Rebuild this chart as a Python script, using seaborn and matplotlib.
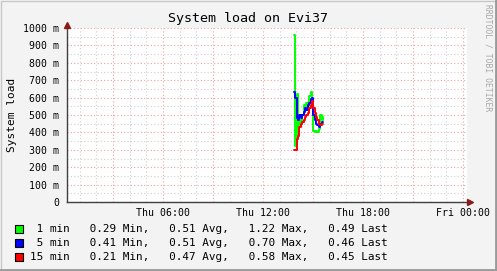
import numpy as np
import pandas as pd
import matplotlib
matplotlib.use("Agg")
import matplotlib.pyplot as plt
from matplotlib.ticker import MultipleLocator, FuncFormatter
from matplotlib.lines import Line2D
from matplotlib.patches import Rectangle
import seaborn as sns

# ---- data (load in milli units, time in hours since Thu 00:00) ----
t_start = 13.85
t_step = 5 / 60
load_1min = [960, 320, 620, 420, 470, 450, 500, 560, 540, 570, 550,
             610, 630, 560, 410, 400, 410, 400, 420, 500, 470, 490]
load_5min = [630, 600, 480, 470, 500, 480, 500, 520, 540, 530, 560,
             570, 590, 600, 500, 470, 450, 440, 430, 450, 460, 460]
load_15min = [300, 300, 360, 380, 430, 450, 460, 470, 490, 500, 510,
              540, 560, 580, 540, 510, 490, 470, 450, 440, 450, 450]
series_names = ["1 min", "5 min", "15 min"]
series_colors = ["#00FF00", "#0000FF", "#FF0000"]
legend_lines = [
    " 1 min   0.29 Min,   0.51 Avg,   1.22 Max,   0.49 Last",
    " 5 min   0.41 Min,   0.51 Avg,   0.70 Max,   0.46 Last",
    "15 min   0.21 Min,   0.47 Avg,   0.58 Max,   0.45 Last",
]
title = "System load on Evi37"
ylabel = "System load"
x_min, x_max = 0.24, 24.24
y_min, y_max = 0, 1000

times = [t_start + i * t_step for i in range(len(load_1min))]
df = pd.DataFrame({
    "time": times * 3,
    "load": load_1min + load_5min + load_15min,
    "series": sum([[n] * len(times) for n in series_names], []),
})

sns.set_style("white")
plt.rcParams["font.family"] = ["DejaVu Sans Mono"]

W, H = 497, 271
fig = plt.figure(figsize=(W / 100, H / 100), dpi=100, facecolor="#F3F3F3")
ax = fig.add_axes([67 / W, (H - 202) / H, 400 / W, 174 / H])
ax.set_facecolor("white")

ax.set_xlim(x_min, x_max)
ax.set_ylim(y_min, y_max)

ax.xaxis.set_major_locator(MultipleLocator(3))
ax.xaxis.set_minor_locator(MultipleLocator(1))
ax.yaxis.set_major_locator(MultipleLocator(100))
ax.yaxis.set_minor_locator(MultipleLocator(50))

def xfmt(v, pos):
    h = int(round(v))
    if h % 6 != 0:
        return ""
    day = "Thu" if h < 24 else "Fri"
    return f"{day} {h % 24:02d}:00"

def yfmt(v, pos):
    return "0" if v == 0 else f"{int(v)} m"

ax.xaxis.set_major_formatter(FuncFormatter(xfmt))
ax.yaxis.set_major_formatter(FuncFormatter(yfmt))

ax.grid(which="minor", color="#D0D0D0", linestyle=(0, (1, 2)), linewidth=0.8, zorder=0)
ax.grid(which="major", color="#F2A0A0", linestyle=(0, (1, 2)), linewidth=0.8, zorder=0.5)
ax.set_axisbelow(True)

sns.lineplot(data=df, x="time", y="load", hue="series", hue_order=series_names,
             palette=series_colors, drawstyle="steps-post", linewidth=1.4,
             legend=False, ax=ax, zorder=3)
ax.set_xlabel("")
ax.set_ylabel("")

for s in ["top", "right"]:
    ax.spines[s].set_visible(False)
for s in ["left", "bottom"]:
    ax.spines[s].set_color("#404040")
    ax.spines[s].set_linewidth(1.0)
    ax.spines[s].set_zorder(4)

ax.tick_params(axis="both", which="major", direction="inout", length=3,
               color="#404040", labelsize=7.1, labelcolor="#000000", pad=3)
ax.tick_params(axis="both", which="minor", direction="inout", length=2, color="#404040")
ax.tick_params(axis="y", which="major", pad=4)

# axis arrows
ax.plot([1.0, 1.008], [0, 0], color="#404040", lw=1.0, transform=ax.transAxes, clip_on=False, zorder=4)
ax.plot([1.008], [0], marker=">", color="#8B1A1A", markersize=4, transform=ax.transAxes, clip_on=False, zorder=5)
ax.plot([0, 0], [1.0, 1.02], color="#404040", lw=1.0, transform=ax.transAxes, clip_on=False, zorder=4)
ax.plot([0], [1.02], marker="^", color="#8B1A1A", markersize=4, transform=ax.transAxes, clip_on=False, zorder=5)

# title and label
fig.text(248 / W, 1 - 19 / H, title, ha="center", va="center", fontsize=9.6, color="#000000")
fig.text(12 / W, 1 - 115 / H, ylabel, ha="center", va="center", rotation=90, fontsize=8, color="#000000")
fig.text(488 / W, 1 - 4 / H, "RRDTOOL / TOBI OETIKER", ha="center", va="top",
         rotation=-90, fontsize=5.8, color="#A8A8A8")

# legend
for i, (txt, col) in enumerate(zip(legend_lines, series_colors)):
    yc = 229 + 14 * i
    fig.patches.append(Rectangle((15 / W, 1 - (yc + 4) / H), 8 / W, 8 / H,
                                 transform=fig.transFigure, facecolor=col,
                                 edgecolor="black", linewidth=0.8))
    fig.text(30.5 / W, 1 - yc / H, txt, ha="left", va="center", fontsize=7.9, color="#000000")

# border
fig.patches.append(Rectangle((0.5 / W, 0.5 / H), (W - 1.5) / W, (H - 1.5) / H,
                             transform=fig.transFigure, fill=False,
                             edgecolor="#C8C8C8", linewidth=1.0))
fig.lines.append(Line2D([0, 1], [1.5 / H, 1.5 / H], transform=fig.transFigure, color="#9A9A9A", lw=2))
fig.lines.append(Line2D([1 - 1.5 / W, 1 - 1.5 / W], [0, 1], transform=fig.transFigure, color="#9A9A9A", lw=2))

fig.savefig("out.png", dpi=100, facecolor=fig.get_facecolor())
